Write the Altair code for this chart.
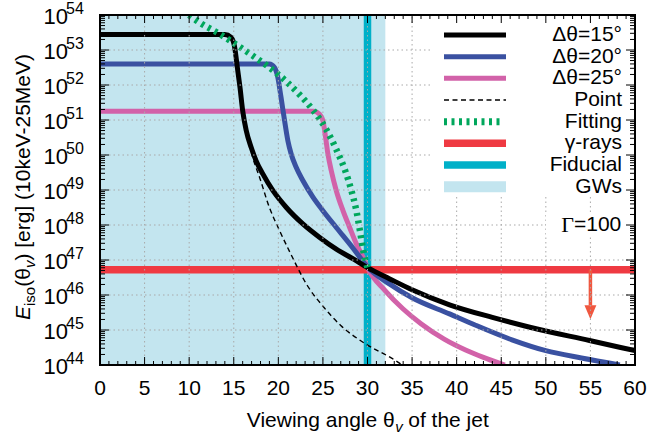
import altair as alt
import pandas as pd

W, H = 535, 350
FONT = "Liberation Sans"
SERIF = "Liberation Serif"

# ------------------------------------------------------------------
# Values
# x: viewing angle (deg); *_lg: log10 of E_iso (erg)
# ------------------------------------------------------------------
black_x = [0.0, 14.0, 14.7, 15.07, 15.45, 15.7, 16.0, 16.4, 16.95, 17.5, 18.26, 19.4,
           20.9, 22.75, 24.6, 26.5, 28.4, 30.0, 32.5, 35.0, 39.2, 44.0, 48.2, 54.9, 60.0]
black_lg = [53.44, 53.44, 53.36, 53.12, 52.41, 51.93, 51.27, 50.70, 50.22, 49.84, 49.46, 48.98,
            48.50, 48.03, 47.65, 47.31, 47.03, 46.78, 46.46, 46.15, 45.72, 45.36, 45.08, 44.70, 44.41]

blue_x = [0.0, 19.0, 19.57, 19.94, 20.3, 20.7, 21.07, 21.44, 22.0, 22.75, 23.9, 25.0,
          26.5, 28.4, 30.0, 32.5, 35.0, 39.2, 42.0, 46.2, 50.0, 54.0, 58.3]
blue_lg = [52.60, 52.60, 52.50, 52.22, 51.65, 50.98, 50.41, 50.03, 49.65, 49.27, 48.79, 48.41,
           47.93, 47.33, 46.80, 46.31, 45.92, 45.46, 45.15, 44.72, 44.41, 44.20, 44.0]

pink_x = [0.0, 24.0, 24.6, 25.0, 25.3, 25.56, 25.94, 26.5, 27.25, 28.0, 28.75, 29.5,
          30.0, 32.0, 34.0, 36.0, 38.6, 41.0, 43.0, 45.4]
pink_lg = [51.25, 51.25, 51.17, 50.98, 50.50, 50.03, 49.55, 48.98, 48.41, 47.93, 47.46, 47.08,
           46.78, 46.12, 45.60, 45.18, 44.74, 44.43, 44.22, 44.0]

point_x = [16.0, 16.57, 17.13, 17.9, 19.0, 20.1, 21.4, 23.3, 25.0, 27.0, 29.8, 32.8, 33.9]
point_lg = [51.27, 50.50, 49.93, 49.36, 48.50, 47.86, 47.17, 46.25, 45.68, 45.13, 44.60, 44.18, 44.0]

fit_x = [10.0, 11.2, 13.4, 15.0, 17.0, 19.0, 20.9, 22.4, 23.9, 25.4, 26.5, 27.5,
         28.2, 28.75, 29.15, 29.5, 29.8, 30.0]
fit_lg = [54.0, 53.78, 53.46, 53.2, 52.86, 52.5, 52.1, 51.72, 51.28, 50.72, 50.16, 49.55,
          48.98, 48.41, 47.84, 47.3, 46.95, 46.78]

gamma_lg = 46.72          # gamma-ray upper limit
gamma_x = [0, 60]
gws_x = [0, 32]           # GW-allowed viewing-angle band
fiducial_x = 30
arrow_x = 55
arrow_shaft_end_lg = 45.70
arrow_head_lg = 45.51

legend_labels = ["Δθ=15°", "Δθ=20°", "Δθ=25°", "Point", "Fitting", "γ-rays", "Fiducial", "GWs"]
x_ticks = list(range(0, 61, 5))
x_minor = [v for v in range(0, 61) if v % 5]
y_exps = list(range(44, 55))
y_minor = [m * 10.0 ** k for k in range(44, 54) for m in range(2, 10)]

# ------------------------------------------------------------------
C_BLACK = "#000000"
C_BLUE = "#3a51a1"
C_PINK = "#d262a9"
C_RED = "#ef3a42"
C_TEAL = "#00b0c8"
C_SHADE = "#c3e5ef"
C_GREEN = "#00a75c"
C_ARROW = "#f0573f"
C_GRID = "#a9a9a9"

xs = alt.Scale(domain=[0, 60], nice=False, zero=False)
ys = alt.Scale(type="log", domain=[1e44, 1e54], nice=False)
Y0, Y1 = 1e44, 1e54


def X(f):
    return alt.X(f, scale=xs, axis=None)


def Y(f):
    return alt.Y(f, scale=ys, axis=None)


def one():
    return alt.Chart(pd.DataFrame({"a": [0]}))


def curve(xv, lg, color, width, dash=None):
    df = pd.DataFrame({"x": xv, "e": [10.0 ** v for v in lg]})
    kw = dict(color=color, strokeWidth=width, clip=True, interpolate="monotone",
              strokeJoin="round")
    if dash:
        kw["strokeDash"] = dash
    return alt.Chart(df).mark_line(**kw).encode(x=X("x:Q"), y=Y("e:Q"))


shade = alt.Chart(pd.DataFrame({"x0": [gws_x[0]], "x1": [gws_x[1]], "y0": [Y0], "y1": [Y1]})) \
    .mark_rect(color=C_SHADE).encode(x=X("x0:Q"), x2="x1:Q", y=Y("y0:Q"), y2="y1:Q")

fiducial = alt.Chart(pd.DataFrame({"x": [fiducial_x], "y0": [Y0], "y1": [Y1]})) \
    .mark_rule(color=C_TEAL, strokeWidth=7.5).encode(x=X("x:Q"), y=Y("y0:Q"), y2="y1:Q")

gamma = alt.Chart(pd.DataFrame({"x0": [gamma_x[0]], "x1": [gamma_x[1]], "e": [10 ** gamma_lg]})) \
    .mark_rule(color=C_RED, strokeWidth=7.5).encode(x=X("x0:Q"), x2="x1:Q", y=Y("e:Q"))

point = curve(point_x, point_lg, C_BLACK, 1.4, dash=[5, 3.5])
pink = curve(pink_x, pink_lg, C_PINK, 5)
blue = curve(blue_x, blue_lg, C_BLUE, 5)
black = curve(black_x, black_lg, C_BLACK, 5)
fit = curve(fit_x, fit_lg, C_GREEN, 6.5, dash=[3, 4.5])

arrow_shaft = alt.Chart(pd.DataFrame({"x": [arrow_x], "e0": [10 ** gamma_lg],
                                      "e1": [10 ** arrow_shaft_end_lg]})) \
    .mark_rule(color=C_ARROW, strokeWidth=3.5).encode(x=X("x:Q"), y=Y("e0:Q"), y2="e1:Q")
arrow_head = alt.Chart(pd.DataFrame({"x": [arrow_x], "e": [10 ** arrow_head_lg]})) \
    .mark_point(shape="M-0.85,-1L0.85,-1L0,1Z", size=196, filled=True, opacity=1,
                color=C_ARROW, strokeWidth=0).encode(x=X("x:Q"), y=Y("e:Q"))

grid_x = alt.Chart(pd.DataFrame({"x": x_ticks[1:-1], "y0": Y0, "y1": Y1})) \
    .mark_rule(color=C_GRID, strokeWidth=1, strokeDash=[1.5, 3]) \
    .encode(x=X("x:Q"), y=Y("y0:Q"), y2="y1:Q")
grid_y = alt.Chart(pd.DataFrame({"e": [10.0 ** k for k in y_exps[1:-1]], "x0": 0, "x1": 60})) \
    .mark_rule(color=C_GRID, strokeWidth=1, strokeDash=[1.5, 3]) \
    .encode(x=X("x0:Q"), x2="x1:Q", y=Y("e:Q"))

# ---------------- legend ----------------
LEG_Y0, LEG_DY = 20, 21.67
LX0, LX1, LTX = 344, 406, 522
leg = pd.DataFrame({
    "label": legend_labels,
    "py": [LEG_Y0 + i * LEG_DY for i in range(len(legend_labels))],
    "c": [C_BLACK, C_BLUE, C_PINK, C_BLACK, C_GREEN, C_RED, C_TEAL, C_SHADE],
    "sw": [5, 5, 5, 1.4, 6.5, 7.5, 7.5, 11],
    "kind": ["solid", "solid", "solid", "dash", "dot", "solid", "solid", "solid"],
})

leg_box = one().mark_rect(color="white").encode(
    x=alt.value(330), x2=alt.value(W), y=alt.value(0), y2=alt.value(182))
gam_box = one().mark_rect(color="white").encode(
    x=alt.value(446), x2=alt.value(W), y=alt.value(198), y2=alt.value(222))

leg_solid = alt.Chart(leg[leg.kind == "solid"]).mark_rule().encode(
    x=alt.value(LX0), x2=alt.value(LX1), y=alt.Y("py:Q", scale=None),
    color=alt.Color("c:N", scale=None), strokeWidth=alt.StrokeWidth("sw:Q", scale=None))
leg_dash = alt.Chart(leg[leg.kind == "dash"]).mark_rule(strokeDash=[5, 3.5], strokeWidth=1.4,
                                                        color=C_BLACK).encode(
    x=alt.value(LX0), x2=alt.value(LX1), y=alt.Y("py:Q", scale=None))
leg_dot = alt.Chart(leg[leg.kind == "dot"]).mark_rule(strokeDash=[3, 4.5], strokeWidth=7,
                                                      color=C_GREEN).encode(
    x=alt.value(LX0), x2=alt.value(LX1 - 4), y=alt.Y("py:Q", scale=None))
leg_text = alt.Chart(leg).mark_text(align="right", baseline="middle", font=FONT,
                                    fontSize=21, color="black").encode(
    x=alt.value(LTX), y=alt.Y("py:Q", scale=None), text="label:N")

gam_G = one().mark_text(align="right", baseline="middle", font=SERIF, fontSize=22,
                        color="black").encode(x=alt.value(474), y=alt.value(210),
                                              text=alt.value("Γ"))
gam_v = one().mark_text(align="left", baseline="middle", font=FONT, fontSize=21,
                        color="black").encode(x=alt.value(474), y=alt.value(210),
                                              text=alt.value("=100"))

# ---------------- ticks & frame ----------------
def xticks(vals, length):
    df = pd.DataFrame({"v": vals})
    bot = alt.Chart(df).mark_rule(color="black", strokeWidth=1).encode(
        x=X("v:Q"), y=alt.value(H), y2=alt.value(H - length))
    top = alt.Chart(df).mark_rule(color="black", strokeWidth=1).encode(
        x=X("v:Q"), y=alt.value(0), y2=alt.value(length))
    return [bot, top]


def yticks(vals, length):
    df = pd.DataFrame({"v": vals})
    left = alt.Chart(df).mark_rule(color="black", strokeWidth=1).encode(
        y=Y("v:Q"), x=alt.value(0), x2=alt.value(length))
    right = alt.Chart(df).mark_rule(color="black", strokeWidth=1).encode(
        y=Y("v:Q"), x=alt.value(W), x2=alt.value(W - length))
    return [left, right]


ticks = xticks(x_ticks, 8) + xticks(x_minor, 4) + \
    yticks([10.0 ** k for k in y_exps], 9) + yticks(y_minor, 5)

frame_v = alt.Chart(pd.DataFrame({"x": [0, 60], "y0": Y0, "y1": Y1})).mark_rule(
    color="black", strokeWidth=2, strokeCap="square").encode(x=X("x:Q"), y=Y("y0:Q"), y2="y1:Q")
frame_h = alt.Chart(pd.DataFrame({"e": [Y0, Y1], "x0": 0, "x1": 60})).mark_rule(
    color="black", strokeWidth=2, strokeCap="square").encode(x=X("x0:Q"), x2="x1:Q", y=Y("e:Q"))

# ---------------- tick labels ----------------
xlab = pd.DataFrame({"v": x_ticks, "t": [str(v) for v in x_ticks]})
xlab_text = alt.Chart(xlab).mark_text(align="center", baseline="top", font=FONT,
                                      fontSize=21, color="black").encode(
    x=X("v:Q"), y=alt.value(H + 13), text="t:N")

ylab = pd.DataFrame({"e": [10.0 ** k for k in y_exps], "base": "10",
                     "exp": [str(k) for k in y_exps]})
ylab_base = alt.Chart(ylab).mark_text(align="right", baseline="middle", font=FONT,
                                      fontSize=22, dy=2, color="black").encode(
    x=alt.value(-32), y=Y("e:Q"), text="base:N")
ylab_exp = alt.Chart(ylab).mark_text(align="left", baseline="middle", font=FONT,
                                     fontSize=16, dy=-6.5, color="black").encode(
    x=alt.value(-34), y=Y("e:Q"), text="exp:N")

# ---------------- axis titles (with sub-scripts) ----------------
def txt(s, x, y, size=21, align="left", angle=0, style="normal", baseline="alphabetic"):
    kw = dict(align=align, baseline=baseline, font=FONT, fontSize=size, color="black",
              fontStyle=style)
    if angle:
        kw["angle"] = angle
    return one().mark_text(**kw).encode(x=alt.value(x), y=alt.value(y), text=alt.value(s))


XT_A = 294.7
xtitle = [
    txt("Viewing angle θ", XT_A, 412, align="right"),
    txt("v", XT_A + 0.5, 417, size=15, style="italic"),
    txt("of the jet", XT_A + 13.5, 412),
]
YT_X = -70
ytitle = [
    txt("E", YT_X, 305, angle=270, style="italic"),
    txt("iso", YT_X + 5, 291, size=15, angle=270),
    txt("(θ", YT_X, 271.8, angle=270),
    txt("v", YT_X + 5, 253.1, size=15, angle=270, style="italic"),
    txt(") [erg] (10keV-25MeV)", YT_X, 245.6, angle=270),
]

layers = [shade, fiducial, gamma, point, pink, blue, black, fit, arrow_shaft, arrow_head,
          grid_x, grid_y, leg_box, gam_box, leg_solid, leg_dash, leg_dot, leg_text,
          gam_G, gam_v] + ticks + [frame_v, frame_h, xlab_text, ylab_base, ylab_exp] \
    + xtitle + ytitle

chart = alt.layer(*layers).properties(
    width=W, height=H,
    padding={"left": 100, "right": 15, "top": 15, "bottom": 71},
    autosize=alt.AutoSizeParams(type="none"),
    background="white",
).configure_view(stroke=None)

chart.save("out.html", embed_options={"renderer": "svg", "actions": False})
